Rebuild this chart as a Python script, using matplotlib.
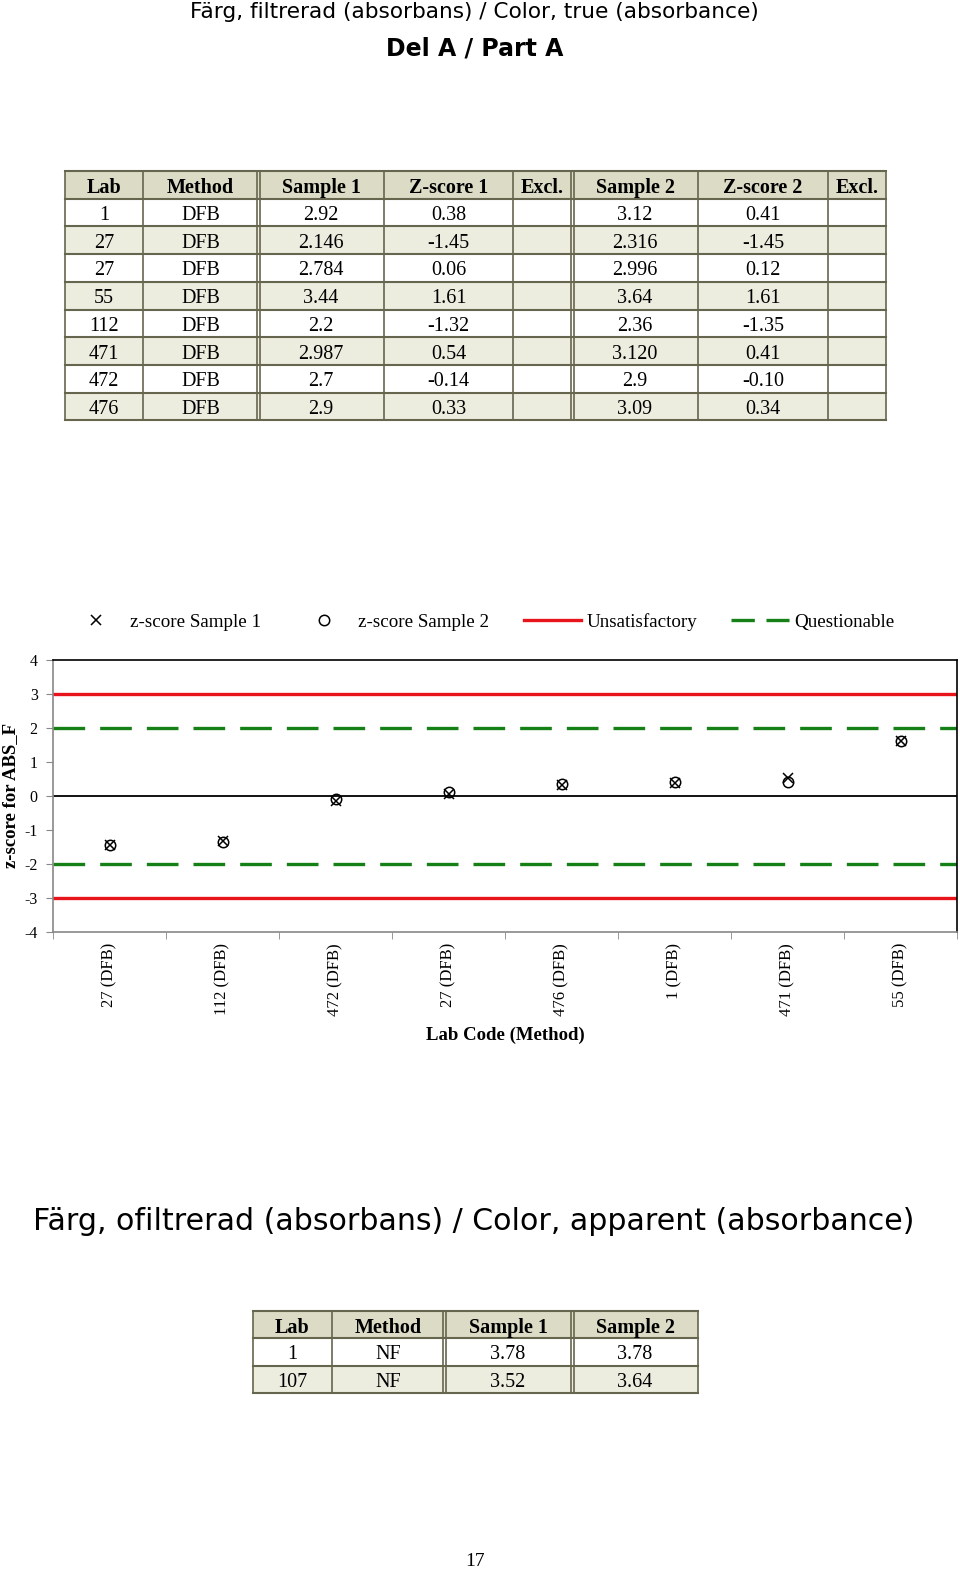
import matplotlib
matplotlib.use("Agg")
import matplotlib.pyplot as plt
from matplotlib.patches import Rectangle
from matplotlib.lines import Line2D

# table 1 (Del A) values
labs = ['1', '27', '27', '55', '112', '471', '472', '476']
methods = ['DFB', 'DFB', 'DFB', 'DFB', 'DFB', 'DFB', 'DFB', 'DFB']
sample1 = ['2.92', '2.146', '2.784', '3.44', '2.2', '2.987', '2.7', '2.9']
z1 = [0.38, -1.45, 0.06, 1.61, -1.32, 0.54, -0.14, 0.33]
sample2 = ['3.12', '2.316', '2.996', '3.64', '2.36', '3.120', '2.9', '3.09']
z2 = [0.41, -1.45, 0.12, 1.61, -1.35, 0.41, -0.10, 0.34]
header1 = ['Lab', 'Method', 'Sample 1', 'Z-score 1', 'Excl.', 'Sample 2', 'Z-score 2', 'Excl.']

# table 2 (apparent colour)
labs2 = ['1', '107']
methods2 = ['NF', 'NF']
sample1_2 = ['3.78', '3.52']
sample2_2 = ['3.78', '3.64']
header2 = ['Lab', 'Method', 'Sample 1', 'Sample 2']

W, H = 960, 1573
SERIF = 'Liberation Serif'
SANS = 'DejaVu Sans'
BORDER = '#66664e'
HEAD_BG = '#dcdcc6'
ALT_BG = '#ececdf'


def fx(px):
    return px / W


def fy(py):
    return 1 - py / H


def draw_table(fig, xs, y0, rh, header, rows, doubles):
    nrow = len(rows) + 1
    for r in range(nrow):
        top = y0 + r * rh
        if r == 0:
            bg = HEAD_BG
        elif r % 2 == 0:
            bg = ALT_BG
        else:
            bg = 'white'
        fig.add_artist(Rectangle((fx(xs[0]), fy(top + rh)), fx(xs[-1]) - fx(xs[0]), rh / H,
                                 transform=fig.transFigure, facecolor=bg, edgecolor='none'))
        cells = header if r == 0 else rows[r - 1]
        for c, txt in enumerate(cells):
            xc = (xs[c] + xs[c + 1]) / 2
            fig.text(fx(xc), fy(top + rh / 2 + 3), txt, ha='center', va='center',
                     family=SERIF, fontsize=14.5,
                     fontweight='bold' if r == 0 else 'normal')
    # horizontal lines
    for r in range(nrow + 1):
        yy = fy(y0 + r * rh)
        fig.add_artist(Line2D([fx(xs[0]), fx(xs[-1])], [yy, yy], color=BORDER, lw=1.5,
                              transform=fig.transFigure))
    # vertical lines
    for i, x in enumerate(xs):
        for dx in ([-1.5, 1.5] if i in doubles else [0]):
            fig.add_artist(Line2D([fx(x + dx), fx(x + dx)], [fy(y0), fy(y0 + nrow * rh)],
                                  color=BORDER, lw=1.2, transform=fig.transFigure))


fig = plt.figure(figsize=(W / 100, H / 100), dpi=100)

fig.text(fx(474), fy(18), 'Färg, filtrerad (absorbans) / Color, true (absorbance)',
         ha='center', va='baseline', family=SANS, fontsize=15.6)
fig.text(fx(475), fy(56), 'Del A / Part A', ha='center', va='baseline',
         family=SANS, fontsize=17, fontweight='bold')

rows1 = []
for i in range(len(labs)):
    rows1.append([labs[i], methods[i], sample1[i], '%.2f' % z1[i], '',
                  sample2[i], '%.2f' % z2[i], ''])
draw_table(fig, [65, 143, 258, 384, 513, 572, 698, 828, 886], 171, 27.7,
           header1, rows1, doubles=[2, 5])

# chart: sorted by z-score sample 1
order = sorted(range(len(labs)), key=lambda i: z1[i])
cats = ['%s (%s)' % (labs[i], methods[i]) for i in order]
zs1 = [z1[i] for i in order]
zs2 = [z2[i] for i in order]
xpos = [i + 0.5 for i in range(len(cats))]

ax = fig.add_axes([fx(53), fy(932), (957 - 53) / W, (932 - 660) / H])
ax.set_xlim(0, len(cats))
ax.set_ylim(-4, 4)
ax.axhline(0, color='black', lw=1.3, zorder=1)
ax.axhline(3, color='#e8141c', lw=2.4, zorder=2)
ax.axhline(-3, color='#e8141c', lw=2.4, zorder=2)
ax.axhline(2, color='#158015', lw=2.4, dashes=(9.5, 4.5), zorder=2)
ax.axhline(-2, color='#158015', lw=2.4, dashes=(9.5, 4.5), zorder=2)
ax.plot(xpos, zs1, ls='none', marker='x', ms=7, mew=1.1, color='black', zorder=3)
ax.plot(xpos, zs2, ls='none', marker='o', ms=7.5, mew=1.1, mfc='none', mec='black', zorder=3)

ax.set_xticks(xpos)
ax.set_xticklabels(cats, rotation=90, family=SERIF, fontsize=12, va='top')
ax.set_xticks(range(len(cats) + 1), minor=True)
ax.tick_params(axis='x', which='major', length=0, pad=8)
ax.tick_params(axis='x', which='minor', length=5, color='#888888', direction='out')
ax.set_yticks(range(-4, 5))
ax.set_yticklabels([str(v) for v in range(-4, 5)], family=SERIF, fontsize=11.5)
ax.tick_params(axis='y', length=5, color='#888888', direction='out', pad=6)
ax.spines['left'].set_color('#888888')
ax.spines['bottom'].set_color('#888888')
ax.spines['left'].set_linewidth(1.2)
ax.spines['bottom'].set_linewidth(1.2)
ax.spines['top'].set_linewidth(1.2)
ax.spines['right'].set_linewidth(1.2)

fig.text(fx(11), fy(795), 'z-score for ABS_F', rotation=90, ha='center', va='center',
         family=SERIF, fontsize=13.5, fontweight='bold')
fig.text(fx(505), fy(1035), 'Lab Code (Method)', ha='center', va='center',
         family=SERIF, fontsize=13.5, fontweight='bold')

handles = [
    Line2D([], [], ls='none', marker='x', ms=7, mew=1.1, color='black'),
    Line2D([], [], ls='none', marker='o', ms=7.5, mew=1.1, mfc='none', mec='black'),
    Line2D([], [], color='#e8141c', lw=2.4),
    Line2D([], [], color='#158015', lw=2.4, dashes=(7, 3.5)),
]
fig.legend(handles, ['z-score Sample 1', 'z-score Sample 2', 'Unsatisfactory', 'Questionable'],
           loc='center', bbox_to_anchor=(fx(481), fy(622)), ncol=4, frameon=False,
           prop={'family': SERIF, 'size': 13.7}, handlelength=3.0, handletextpad=0.3,
           columnspacing=1.8)

fig.text(fx(474), fy(1230), 'Färg, ofiltrerad (absorbans) / Color, apparent (absorbance)',
         ha='center', va='baseline', family=SANS, fontsize=21.6)

rows2 = []
for i in range(len(labs2)):
    rows2.append([labs2[i], methods2[i], sample1_2[i], sample2_2[i]])
draw_table(fig, [253, 332, 444, 572, 698], 1311, 27.3, header2, rows2, doubles=[2, 3])

fig.text(fx(475), fy(1562), '17', ha='center', va='center', family=SERIF, fontsize=14)

fig.savefig('out.png', dpi=100)
